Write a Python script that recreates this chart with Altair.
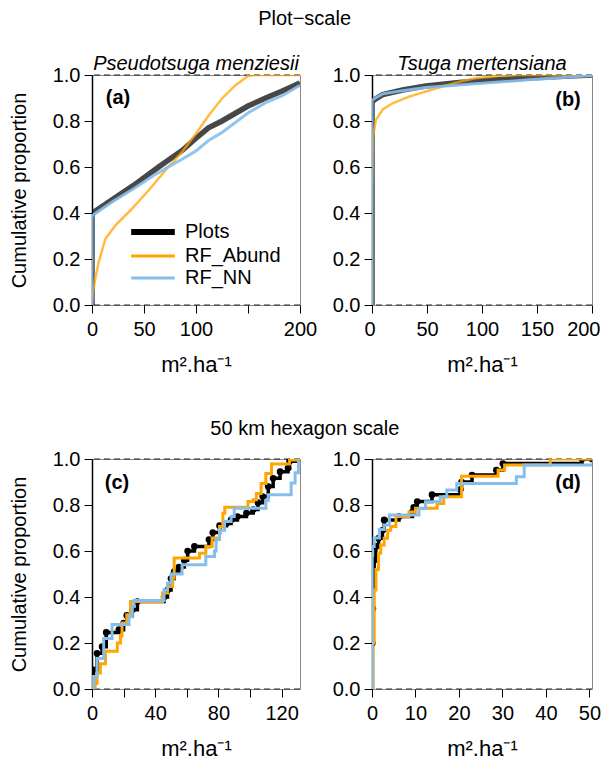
import altair as alt
import pandas as pd

FONT = "Liberation Sans"
SERIES = ["Plots", "RF_Abund", "RF_NN"]
COLORS = ["#000000", "#FFA500", "#86BEEB"]
Y_TICKS = [0, 0.2, 0.4, 0.6, 0.8, 1.0]
H_LINES = [0, 1]
X_TITLE = "m\u00b2.ha\u207b\u00b9"

# ---- (a) Pseudotsuga menziesii, plot scale ----
a_plots_x = [0, 0, 2, 20, 40, 64, 87, 100, 112, 125, 150, 167, 183, 200]
a_plots_y = [0, 0.39, 0.405, 0.46, 0.52, 0.60, 0.673, 0.725, 0.77, 0.80, 0.865, 0.90, 0.93, 0.965]
a_abund_x = [0, 1, 3, 6.4, 12.9, 22.5, 38.6, 54.7, 70.7, 86.8, 100, 112.5, 125, 138, 150, 157, 200]
a_abund_y = [0, 0.06, 0.11, 0.186, 0.288, 0.346, 0.419, 0.50, 0.586, 0.666, 0.746, 0.826, 0.898, 0.956, 0.996, 1.0, 1.0]
a_nn_x = [0, 0, 2, 20, 40, 60, 75, 87, 100, 112, 125, 150, 167, 183, 200]
a_nn_y = [0, 0.385, 0.395, 0.45, 0.505, 0.565, 0.605, 0.635, 0.67, 0.715, 0.75, 0.835, 0.88, 0.91, 0.955]

# ---- (b) Tsuga mertensiana, plot scale ----
b_plots_x = [0, 0, 3, 9.7, 27.8, 49, 79, 109, 139.6, 170, 200]
b_plots_y = [0, 0.885, 0.895, 0.915, 0.935, 0.952, 0.967, 0.978, 0.986, 0.993, 1.0]
b_abund_x = [0, 0, 1, 3.6, 9.7, 18.7, 33.8, 49, 64, 79, 94, 109, 124, 200]
b_abund_y = [0, 0.5, 0.733, 0.805, 0.85, 0.877, 0.906, 0.928, 0.95, 0.97, 0.986, 0.993, 1.0, 1.0]
b_nn_x = [0, 0, 3, 9.7, 27.8, 49, 79, 109, 139.6, 170, 200]
b_nn_y = [0, 0.89, 0.90, 0.918, 0.932, 0.946, 0.957, 0.967, 0.978, 0.988, 0.998]

# ---- (c) Pseudotsuga menziesii, 50 km hexagons (step ECDF) ----
c_plots_x = [0, 1, 3.2, 6.4, 9, 17, 20, 22, 25.5, 28.7, 45.6, 47.8, 50, 52, 55, 58.4, 60.5,
             64.8, 74, 76.4, 80.7, 85, 88, 92, 97.7, 102, 105, 108, 111.5, 114.6, 119, 124, 125, 131.6]
c_plots_y = [0, 0.083, 0.155, 0.184, 0.246, 0.258, 0.287, 0.32, 0.345, 0.38, 0.40, 0.43, 0.48, 0.51,
             0.53, 0.56, 0.60, 0.62, 0.65, 0.68, 0.71, 0.72, 0.735, 0.75, 0.765, 0.78, 0.81, 0.837,
             0.88, 0.916, 0.945, 0.96, 0.99, 1.0]
c_abund_x = [0, 2, 3.2, 5.3, 8.5, 16, 18, 19, 22, 24.4, 44.6, 47.8, 51, 52, 68, 72, 76, 80.7, 82.8,
             84, 98.7, 102, 104, 107, 110, 113.6, 125, 131.6]
c_abund_y = [0, 0.025, 0.07, 0.11, 0.164, 0.2, 0.23, 0.287, 0.323, 0.38, 0.417, 0.446, 0.483, 0.57,
             0.59, 0.62, 0.657, 0.706, 0.764, 0.79, 0.815, 0.823, 0.85, 0.894, 0.937, 0.978, 0.996, 1.0]
c_nn_x = [0, 1, 3.2, 7.4, 12.7, 23.4, 25.5, 26.5, 45.6, 47.8, 50, 57, 72, 77.5, 78.5, 80.7, 83.9,
          88, 90, 110, 111.5, 126, 128.5, 130.6, 131.6]
c_nn_y = [0, 0.054, 0.133, 0.22, 0.28, 0.314, 0.36, 0.385, 0.432, 0.46, 0.50, 0.54, 0.576, 0.60,
          0.65, 0.69, 0.728, 0.75, 0.786, 0.82, 0.845, 0.896, 0.94, 0.985, 1.0]

# ---- (d) Tsuga mertensiana, 50 km hexagons (step ECDF) ----
d_plots_x = [0, 0.1, 0.2, 0.3, 0.5, 0.9, 1.5, 2.4, 2.8, 6.2, 9.3, 9.6, 10.4, 13.8, 20.3, 20.6, 23,
             28.6, 30.1, 48.3, 50.6]
d_plots_y = [0, 0.2, 0.35, 0.50, 0.56, 0.62, 0.655, 0.69, 0.735, 0.75, 0.77, 0.79, 0.815, 0.845,
             0.867, 0.90, 0.93, 0.952, 0.98, 1.0, 1.0]
d_abund_x = [0, 0.2, 0.5, 0.9, 1.5, 2, 2.8, 3.6, 4.3, 5.5, 8.5, 10, 15, 16.5, 20.6, 29, 30.5, 41, 50.6]
d_abund_y = [0, 0.2, 0.43, 0.52, 0.59, 0.626, 0.655, 0.69, 0.706, 0.75, 0.77, 0.786, 0.807, 0.836,
             0.925, 0.952, 0.974, 1.0, 1.0]
d_nn_x = [0, 0.05, 0.5, 1.7, 2.8, 4, 10.8, 12.3, 15.7, 17.2, 19.5, 33.2, 35, 50.6]
d_nn_y = [0, 0.62, 0.656, 0.693, 0.713, 0.757, 0.785, 0.814, 0.836, 0.865, 0.894, 0.923, 0.974, 0.974]


def series_df(xs_list, ys_list):
    rows = []
    for s, xs, ys in zip(SERIES, xs_list, ys_list):
        for i, (x, y) in enumerate(zip(xs, ys)):
            rows.append({"series": s, "x": x, "y": y, "i": i})
    return pd.DataFrame(rows)


def panel(df, xmax, xticks, xlabels, w, h, tag, tag_x, tag_y,
          ytitle=None, title=None, step=False, legend=False, flush=False):
    xscale = alt.Scale(domain=[0, xmax], nice=False, zero=False)
    yscale = alt.Scale(domain=[0, 1], nice=False)
    hide = [v for v in xticks if v not in xlabels]
    if hide:
        label_expr = "indexof([%s], datum.value) >= 0 ? '' : datum.label" % ",".join(str(v) for v in hide)
    else:
        label_expr = "datum.label"
    xkw = dict(values=xticks, labelExpr=label_expr, domain=False, tickSize=8, labelPadding=6,
               titlePadding=15, title=X_TITLE, grid=False, titleFontSize=22)
    if flush:
        xaxis = alt.Axis(labelFlush=True, labelFlushOffset=8, **xkw)
    else:
        xaxis = alt.Axis(labelFlush=False, **xkw)
    ykw = dict(values=Y_TICKS, format=".1f", tickSize=8, labelPadding=4, domainWidth=1.5,
               domainColor="black", grid=False)
    if ytitle:
        yaxis = alt.Axis(title=ytitle, titlePadding=23, **ykw)
    else:
        yaxis = alt.Axis(title=None, **ykw)
    X = alt.X("x:Q", scale=xscale, axis=xaxis)
    Y = alt.Y("y:Q", scale=yscale, axis=yaxis)
    cscale = alt.Scale(domain=SERIES, range=COLORS)

    layers = [
        alt.Chart(pd.DataFrame({"y": H_LINES}))
        .mark_rule(strokeDash=[6, 4], color="#222222", strokeWidth=1)
        .encode(y=Y)
    ]
    if step:
        widths = {"Plots": 3.5, "RF_Abund": 3, "RF_NN": 3}
        opac = {"Plots": 1, "RF_Abund": 1, "RF_NN": 1}
    else:
        widths = {"Plots": 5.5, "RF_Abund": 2.5, "RF_NN": 3}
        opac = {"Plots": 0.72, "RF_Abund": 0.75, "RF_NN": 0.9}
    for k, s in enumerate(SERIES):
        if legend and k == 0:
            leg = alt.Legend(
                title=None, orient="none", legendX=51, legendY=147,
                symbolType="stroke", symbolSize=1900, labelFontSize=20,
                labelFont=FONT, labelColor="black", padding=0, rowPadding=2,
                labelOffset=22, symbolOpacity=1,
                symbolStrokeWidth={"expr": "datum.value == 'Plots' ? 6 : 3"})
        else:
            leg = None
        m = (alt.Chart(df)
             .transform_filter(alt.datum.series == s)
             .mark_line(clip=True, strokeWidth=widths[s], opacity=opac[s],
                        interpolate="step-after" if step else "linear")
             .encode(x=X, y=Y, order="i:Q",
                     color=alt.Color("series:N", scale=cscale, legend=leg)))
        layers.append(m)
        if step and s == "Plots":
            layers.append(
                alt.Chart(df)
                .transform_filter((alt.datum.series == s) & (alt.datum.i > 0))
                .mark_circle(size=45, color="black", opacity=1, clip=True)
                .encode(x=X, y=Y))
    layers.append(
        alt.Chart(pd.DataFrame({"t": [tag]}))
        .mark_text(fontWeight="bold", fontSize=20, font=FONT, color="black")
        .encode(text="t:N", x=alt.value(tag_x), y=alt.value(tag_y)))
    props = dict(width=w, height=h)
    if title:
        props["title"] = alt.TitleParams(title, fontStyle="italic", fontSize=20, offset=-9,
                                         frame="group", font=FONT, fontWeight="normal")
    return alt.layer(*layers).properties(**props)


df_a = series_df([a_plots_x, a_abund_x, a_nn_x], [a_plots_y, a_abund_y, a_nn_y])
df_b = series_df([b_plots_x, b_abund_x, b_nn_x], [b_plots_y, b_abund_y, b_nn_y])
df_c = series_df([c_plots_x, c_abund_x, c_nn_x], [c_plots_y, c_abund_y, c_nn_y])
df_d = series_df([d_plots_x, d_abund_x, d_nn_x], [d_plots_y, d_abund_y, d_nn_y])

LW, RW, H = 208, 220, 230
pa = panel(df_a, 200, [0, 50, 100, 150, 200], [0, 50, 100, 200], LW, H, "(a)", 26, 23,
           ytitle="Cumulative proportion", title="Pseudotsuga menziesii", legend=True)
pb = panel(df_b, 200, [0, 50, 100, 150, 200], [0, 50, 100, 150, 200], RW, H, "(b)", 196, 25,
           title="Tsuga mertensiana", flush=True)
pc = panel(df_c, 131.6, [0, 20, 40, 60, 80, 100, 120], [0, 40, 80, 120], LW, H, "(c)", 25, 24,
           ytitle="Cumulative proportion", step=True)
pd_ = panel(df_d, 50.6, [0, 10, 20, 30, 40, 50], [0, 10, 20, 30, 40, 50], RW, H, "(d)", 196, 24,
            step=True)

row1 = (alt.hconcat(pa, pb, spacing=13,
                    title=alt.TitleParams("Plot\u2212scale", anchor="middle", offset=25,
                                          fontSize=20, font=FONT, fontWeight="normal"))
        .resolve_scale(color="independent").resolve_legend(color="independent"))
row2 = (alt.hconcat(pc, pd_, spacing=30,
                    title=alt.TitleParams("50 km hexagon scale", anchor="middle", offset=10,
                                          fontSize=20, font=FONT, fontWeight="normal"))
        .resolve_scale(color="independent").resolve_legend(color="independent"))

chart = (alt.vconcat(row1, row2, spacing=42)
         .resolve_scale(color="independent").resolve_legend(color="independent")
         .properties(padding=0)
         .configure(font=FONT)
         .configure_view(stroke="#888888", strokeWidth=1)
         .configure_axis(labelFont=FONT, titleFont=FONT, labelFontSize=20, titleFontSize=20,
                         labelColor="black", titleColor="black", tickColor="black",
                         titleFontWeight="normal")
         .configure_title(font=FONT, fontSize=20, fontWeight="normal", color="black"))

chart.save("out.html", embed_options={"renderer": "svg", "actions": False})
